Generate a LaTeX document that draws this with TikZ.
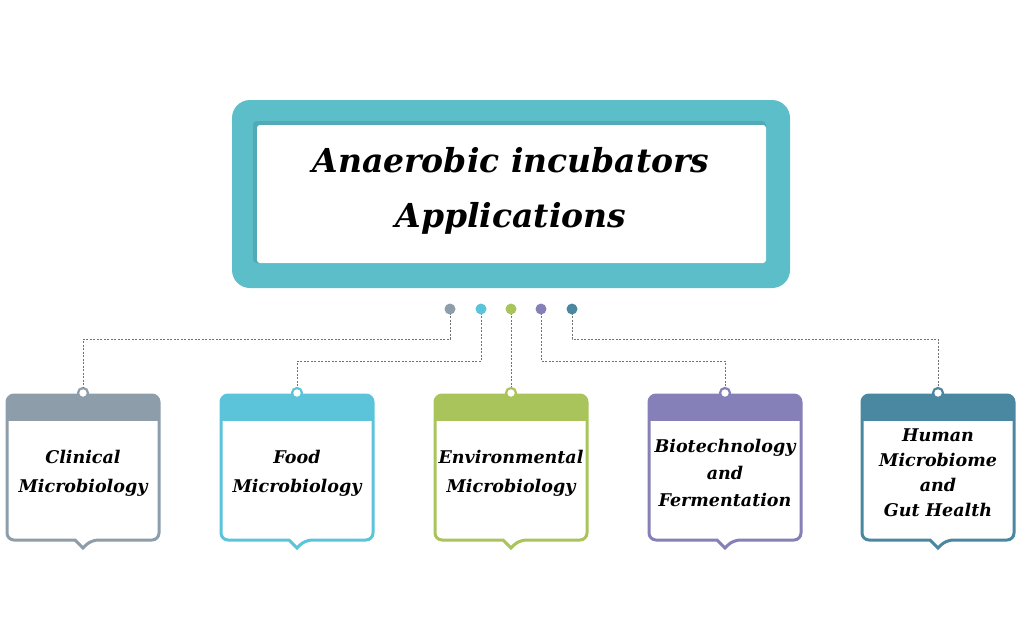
\documentclass[tikz,border=0pt]{standalone}
\usepackage{fontspec}
\setmainfont{DejaVu Serif}
\definecolor{clinicol}{HTML}{8E9DAA}
\definecolor{foodcol}{HTML}{5BC4DB}
\definecolor{envcol}{HTML}{A8C45A}
\definecolor{biocol}{HTML}{8580B8}
\definecolor{gutcol}{HTML}{4A87A0}
\definecolor{titlecol}{HTML}{5BBEC8}
\begin{document}
\begin{tikzpicture}[x=1pt,y=-1pt,
  link/.style={dash pattern=on 2pt off 1.5pt, black!55, line width=.7pt},
  bead/.style={circle, inner sep=0, minimum size=11pt},
  hook/.style={circle, draw, fill=white, line width=2.2pt, inner sep=0, minimum size=10pt},
  label/.style={align=center, font=\fontsize{17.5}{29}\selectfont\bfseries\itshape}]
\useasboundingbox (0,0) rectangle (1024,638);
% title box
\fill[titlecol, rounded corners=18] (232,100) rectangle (790,288);
\fill[titlecol!90!black, rounded corners=4] (253,121) rectangle (766,263);
\fill[white, rounded corners=3] (257,125) rectangle (766,263);
\node[align=center, font=\fontsize{33}{55}\selectfont\bfseries\itshape] (title) at (511,191) {Anaerobic incubators\\Applications};
% cards
\foreach \x/\c/\t [count=\i] in {83/clinicol/{Clinical\\Microbiology},
    297/foodcol/{Food\\Microbiology},
    511/envcol/{Environmental\\Microbiology},
    725/biocol/{Biotechnology\\[-2pt]and\\[-2pt]Fermentation},
    938/gutcol/{Human\\[-4pt]Microbiome\\[-4pt]and\\[-4pt]Gut Health}}
{
  \begin{scope}
    \clip[rounded corners=7] (\x-76,395) rectangle (\x+76,540);
    \fill[white] (\x-76,395) rectangle (\x+76,540);
    \fill[\c] (\x-76,395) rectangle (\x+76,421);
  \end{scope}
  \fill[white] (\x-8,539) -- (\x,547) -- (\x+8,539) -- cycle;
  \draw[\c, line width=3pt, rounded corners=7] (\x,395) -- (\x+76,395) -- (\x+76,540)
    -- (\x+8,540) [sharp corners] -- (\x,548) -- (\x-8,540) [rounded corners=7] -- (\x-76,540)
    -- (\x-76,395) -- (\x,395);
  \node[hook, draw=\c] (h\i) at (\x,393) {};
  \node[label] (t\i) at (\x,473) {\t};
}
% dotted links
\draw[link] (450,309) coordinate (d1) -- ++(0,30) -| (h1.north);
\draw[link] (481,309) coordinate (d2) -- ++(0,52) -| (h2.north);
\draw[link] (511,309) coordinate (d3) -- (h3.north);
\draw[link] (541,309) coordinate (d4) -- ++(0,52) -| (h4.north);
\draw[link] (572,309) coordinate (d5) -- ++(0,30) -| (h5.north);
\foreach \c [count=\i] in {clinicol,foodcol,envcol,biocol,gutcol}
  \node[bead, fill=\c] (b\i) at (d\i) {};
\end{tikzpicture}
\end{document}
